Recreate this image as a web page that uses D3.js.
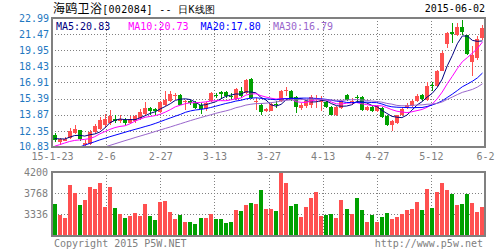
<!DOCTYPE html>
<html><head><meta charset="utf-8">
<script src="https://cdn.jsdelivr.net/npm/d3@7"></script>
<style>body{margin:0;background:#fff}svg{display:block}</style>
</head><body><svg id="c" width="500" height="250"></svg>
<script>
const title = "海鸥卫浴[002084] -- 日K线图";
const lastDate = "2015-06-02";
const dates = ["1-23","1-26","1-27","1-28","1-29","1-30",
"2-2","2-3","2-4","2-5","2-6","2-9","2-10","2-11","2-12","2-13","2-16","2-17","2-25","2-26","2-27",
"3-2","3-3","3-4","3-5","3-6","3-9","3-10","3-11","3-12","3-13","3-16","3-17","3-18","3-19","3-20","3-23","3-24","3-25","3-26","3-27","3-30","3-31",
"4-1","4-2","4-3","4-7","4-8","4-9","4-10","4-13","4-14","4-15","4-16","4-17","4-20","4-21","4-22","4-23","4-24","4-27","4-28","4-29","4-30",
"5-4","5-5","5-6","5-7","5-8","5-11","5-12","5-13","5-14","5-15","5-18","5-19","5-20","5-21","5-22","5-25","5-26","5-27","5-28","5-29",
"6-1","6-2"];
const open = [11.99,11.30,11.42,11.68,12.15,12.40,11.05,11.11,12.24,12.56,
12.93,13.09,13.47,13.25,13.37,13.09,13.25,13.56,13.94,14.50,
14.44,14.13,14.76,15.13,15.67,15.70,15.04,15.13,14.97,14.82,
14.44,15.13,15.75,16.01,15.98,15.67,15.38,16.08,15.92,17.27,
15.10,14.82,14.25,14.25,14.85,15.13,16.14,16.10,15.51,14.50,
14.66,14.76,15.33,15.10,15.04,14.60,13.81,14.50,15.70,15.07,
15.51,15.51,14.35,14.63,14.19,14.50,13.72,12.87,13.09,13.81,
14.50,14.66,15.13,15.70,15.29,16.64,16.55,18.02,20.54,21.67,
21.42,22.14,21.35,18.84,19.22,21.10];
const high = [12.12,11.68,11.74,12.62,12.87,12.46,11.52,12.46,13.00,13.62,
13.94,14.35,13.81,13.81,13.56,13.72,13.88,14.41,15.07,14.57,
14.50,15.13,16.08,16.08,15.92,15.82,15.29,15.29,15.13,14.97,
15.07,16.01,15.92,16.08,16.08,15.92,16.39,16.48,17.24,17.33,
15.45,14.97,14.55,15.00,15.13,16.23,16.48,16.20,15.60,14.97,
15.20,15.70,15.76,15.60,15.13,14.66,14.66,15.29,15.82,15.45,
15.76,15.60,14.72,14.72,14.82,14.57,13.81,13.40,13.88,14.50,
14.97,15.29,15.82,15.82,16.95,16.92,18.12,19.84,21.67,22.52,
22.52,22.83,21.42,20.32,21.26,22.36];
const low = [11.30,11.05,11.36,11.61,12.05,11.42,10.95,11.05,12.15,12.46,
12.68,12.93,13.09,13.09,12.93,13.00,13.09,13.40,13.88,13.88,
13.88,14.03,14.66,15.07,15.29,14.76,14.35,14.82,14.41,13.94,
14.19,15.04,15.45,15.38,15.45,15.29,15.29,15.45,15.82,15.38,
14.35,13.85,14.10,14.20,14.50,15.04,15.60,15.20,14.03,14.35,
14.50,14.50,14.50,14.19,14.50,13.81,13.72,14.44,15.20,14.82,
15.13,14.25,14.19,14.13,14.13,13.56,12.78,12.37,13.03,13.72,
14.44,14.57,15.07,15.20,15.13,16.08,16.45,17.96,20.16,20.63,
21.26,21.42,19.53,17.49,19.06,20.95];
const close = [11.46,11.58,11.61,12.37,12.52,11.58,11.20,12.24,12.78,13.40,
13.47,13.72,13.31,13.47,13.09,13.47,13.72,14.13,14.50,14.19,
14.19,15.07,15.29,15.82,15.76,14.76,15.20,14.97,14.50,14.41,
14.97,15.92,15.70,15.80,15.60,15.57,16.26,15.60,17.17,15.45,
15.20,14.10,14.40,14.90,14.79,16.08,16.23,15.30,14.57,14.82,
15.13,15.51,15.42,15.20,14.57,13.88,14.57,15.13,15.29,15.20,
15.42,14.35,14.63,14.19,14.66,13.63,12.87,13.25,13.81,14.44,
14.82,15.20,15.67,15.35,16.61,16.55,17.96,19.69,21.57,21.48,
22.11,21.67,19.59,19.53,21.04,22.05];
const volume = [3540,3313,3251,3935,3770,3519,3622,3887,3843,3967,
3480,3887,3464,3337,3251,3292,3354,3292,3540,3292,
3210,3581,3602,3375,3231,3313,3169,3169,3128,3251,
3251,3334,3231,3231,3148,3169,3416,3396,3519,3563,
3540,3829,3437,3437,3399,4200,3980,3499,3540,3272,
3478,3664,3788,3296,3316,3337,3251,3622,3437,3337,
3664,3416,3169,3313,3169,3272,3354,3231,3272,3334,
3416,3437,3581,3416,3849,3458,3788,3980,3829,3746,
3519,3540,3746,3560,3375,3478];
const ma5 = [11.62,11.60,11.58,11.75,11.91,11.93,11.86,11.98,12.06,12.24,
12.62,13.12,13.34,13.47,13.41,13.41,13.41,13.58,13.78,14.00,
14.15,14.42,14.65,14.91,15.23,15.34,15.37,15.30,15.04,14.77,
14.81,14.95,15.10,15.36,15.60,15.72,15.83,15.81,16.04,16.01,
15.94,15.50,15.26,14.81,14.68,14.85,15.28,15.46,15.39,15.40,
15.21,15.07,15.09,15.22,15.17,14.92,14.73,14.67,14.69,14.81,
15.12,15.08,14.98,14.76,14.65,14.29,14.00,13.72,13.64,13.60,
13.84,14.30,14.79,15.10,15.53,15.88,16.43,17.23,18.48,19.45,
20.56,21.30,21.28,20.88,20.79,20.83];
const ma10 = [10.90,11.05,11.20,11.35,11.45,11.50,11.55,11.62,11.80,12.07,
12.28,12.49,12.66,12.77,12.83,13.02,13.27,13.46,13.63,13.71,
13.79,13.92,14.12,14.35,14.62,14.77,14.92,15.00,15.00,15.03,
15.08,15.16,15.20,15.20,15.19,15.27,15.37,15.44,15.72,15.83,
15.85,15.67,15.54,15.43,15.35,15.40,15.39,15.36,15.10,15.04,
15.03,15.18,15.28,15.31,15.29,15.07,14.90,14.88,14.96,14.99,
15.02,14.91,14.83,14.73,14.73,14.71,14.54,14.35,14.20,14.13,
14.07,14.15,14.26,14.37,14.57,14.86,15.37,16.01,16.79,17.49,
18.22,18.87,19.26,19.68,20.12,20.73];
const ma20 = [10.05,10.20,10.35,10.50,10.67,10.83,11.00,11.17,11.33,11.50,
11.65,11.80,11.94,12.08,12.22,12.36,12.49,12.62,12.76,12.89,
13.05,13.22,13.40,13.57,13.74,13.90,14.10,14.23,14.32,14.37,
14.45,14.55,14.67,14.80,14.93,15.03,15.16,15.23,15.36,15.43,
15.47,15.42,15.37,15.33,15.28,15.35,15.39,15.41,15.41,15.44,
15.44,15.43,15.41,15.37,15.32,15.24,15.15,15.12,15.03,15.02,
15.03,15.05,15.06,15.02,15.01,14.89,14.72,14.62,14.58,14.56,
14.55,14.53,14.55,14.55,14.65,14.79,14.96,15.18,15.50,15.81,
16.15,16.51,16.76,17.03,17.35,17.80];
const ma30 = [9.45,9.60,9.75,9.90,10.05,10.20,10.35,10.50,10.62,10.72,
10.83,10.98,11.13,11.28,11.43,11.57,11.72,11.86,12.00,12.14,
12.29,12.43,12.58,12.72,12.87,13.02,13.17,13.32,13.46,13.60,
13.73,13.86,14.00,14.12,14.23,14.36,14.53,14.64,14.78,14.86,
14.92,14.93,14.96,15.01,15.07,15.16,15.23,15.27,15.27,15.30,
15.32,15.34,15.34,15.32,15.28,15.26,15.23,15.23,15.26,15.29,
15.30,15.26,15.22,15.16,15.12,15.06,14.94,14.87,14.75,14.72,
14.71,14.75,14.79,14.80,14.86,14.88,14.94,15.08,15.32,15.54,
15.77,15.98,16.12,16.26,16.48,16.79];
const maNames = ["MA5","MA10","MA20","MA30"];
const priceTicks = [10.83,12.35,13.87,15.39,16.91,18.43,19.95,21.47,22.99];
const volTicks = [3336,3768,4200];
const dateTicks = ["15-1-23","2-6","2-27","3-13","3-27","4-13","4-27","5-12","6-2"];

const svg = d3.select("#c");
const L = 52, R = 485, T = 18, B = 147, VT = 172, VB = 236;
const MONO = "'DejaVu Sans Mono', monospace";
const CJK = "'Noto Sans CJK SC', sans-serif";
const RED = "#ff5050", GREEN = "#00a000", GRID = "#808080";
const maColors = ["#000080","#ff00ff","#0000ff","#9966cc"];

const x = d3.scaleBand().domain(dates).range([L, R]).paddingInner(0.2).paddingOuter(0.1);
const y = d3.scaleLinear().domain([10.83, 22.99]).range([B, T]);
const yv = d3.scaleLinear().domain([2880, 4200]).range([VB, VT]);
const xg = d3.scaleLinear().domain([0, dateTicks.length - 1]).range([L, R]);
const cx = d => x(d) + x.bandwidth() / 2;

const defs = svg.append("defs");
defs.append("clipPath").attr("id","cm").append("rect").attr("x",L).attr("y",T).attr("width",R-L).attr("height",B-T);
defs.append("clipPath").attr("id","cv").append("rect").attr("x",L).attr("y",VT).attr("width",R-L).attr("height",VB-VT);

// Title & date
const t = svg.append("text").attr("x", 53).attr("y", 12.5).attr("fill", "#000")
  .style("white-space", "pre").attr("textLength", 162).attr("lengthAdjust", "spacing");
t.append("tspan").attr("font-family", CJK).attr("font-size", 12).text(title.slice(0,4));
t.append("tspan").attr("font-family", MONO).attr("font-size", 10).style("white-space","pre").text(title.slice(4, 20));
t.append("tspan").attr("font-family", CJK).attr("font-size", 12).text(title.slice(20));
svg.append("text").attr("x", R).attr("y", 12).attr("text-anchor","end")
  .attr("font-family", MONO).attr("font-size", 10).attr("fill","#000").text(lastDate);

// Grid lines
const gridG = svg.append("g").attr("stroke", GRID).attr("stroke-dasharray","1,2").attr("shape-rendering","crispEdges");
priceTicks.slice(1, -1).forEach(v => {
  const yy = Math.round(y(v)) + 0.5;
  gridG.append("line").attr("x1", L).attr("x2", R).attr("y1", yy).attr("y2", yy);
});
volTicks.slice(0, -1).forEach(v => {
  const yy = Math.round(yv(v)) + 0.5;
  gridG.append("line").attr("x1", L).attr("x2", R).attr("y1", yy).attr("y2", yy);
});
d3.range(1, dateTicks.length - 1).forEach(i => {
  const xx = Math.round(xg(i)) + 0.5;
  gridG.append("line").attr("x1", xx).attr("x2", xx).attr("y1", T).attr("y2", B);
  gridG.append("line").attr("x1", xx).attr("x2", xx).attr("y1", VT).attr("y2", VB);
});

// Candles
const cg = svg.append("g").attr("clip-path","url(#cm)").attr("shape-rendering","crispEdges");
dates.forEach((d, i) => {
  const up = close[i] >= open[i];
  const col = up ? RED : GREEN;
  const x0 = Math.round(x(d));
  const w = Math.max(1, Math.round(x.bandwidth()));
  const wx = x0 + Math.floor(w / 2);
  const yh = Math.round(y(high[i])), yl = Math.round(y(low[i]));
  cg.append("rect").attr("x", wx).attr("y", yh).attr("width", 1).attr("height", Math.max(1, yl - yh)).attr("fill", col);
  const yt = Math.round(y(Math.max(open[i], close[i])));
  const yb = Math.round(y(Math.min(open[i], close[i])));
  cg.append("rect").attr("x", x0).attr("y", yt).attr("width", w).attr("height", Math.max(1, yb - yt)).attr("fill", col);
});

// MA lines
const mg = svg.append("g").attr("clip-path","url(#cm)").attr("fill","none").attr("stroke-width",1);
[ma5, ma10, ma20, ma30].forEach((arr, j) => {
  const line = d3.line().x((v, i) => cx(dates[i])).y(v => y(v));
  mg.append("path").attr("d", line(arr)).attr("stroke", maColors[j]);
});

// Volume bars
const vg = svg.append("g").attr("clip-path","url(#cv)").attr("shape-rendering","crispEdges");
dates.forEach((d, i) => {
  const up = close[i] >= open[i];
  const x0 = Math.round(x(d));
  const w = Math.max(1, Math.round(x.bandwidth()));
  const yt = Math.round(yv(volume[i]));
  vg.append("rect").attr("x", x0).attr("y", yt).attr("width", w).attr("height", Math.max(0, VB - yt)).attr("fill", up ? RED : GREEN);
});

// Frames
svg.append("rect").attr("x", L).attr("y", T).attr("width", R-L).attr("height", B-T)
  .attr("fill","none").attr("stroke", GRID).attr("stroke-width", 2);
svg.append("rect").attr("x", L).attr("y", VT).attr("width", R-L).attr("height", VB-VT)
  .attr("fill","none").attr("stroke", GRID).attr("stroke-width", 2);

// Axes labels
const ya = svg.append("g").attr("transform", `translate(${L},0)`)
  .call(d3.axisLeft(y).tickValues(priceTicks).tickSize(0).tickPadding(3).tickFormat(d3.format(".2f")));
ya.select(".domain").remove();
ya.selectAll("text").attr("font-family", MONO).attr("font-size", 10).attr("fill", "#1f78c1");
ya.selectAll(".tick").filter(d => d === priceTicks[0]).select("text").attr("dy", "0.2em");

const yva = svg.append("g").attr("transform", `translate(${L},0)`)
  .call(d3.axisLeft(yv).tickValues(volTicks).tickSize(0).tickPadding(4).tickFormat(d3.format("d")));
yva.select(".domain").remove();
yva.selectAll("text").attr("font-family", MONO).attr("font-size", 10).attr("fill", "#808080");

const xa = svg.append("g").attr("transform", `translate(0,${B})`)
  .call(d3.axisBottom(xg).tickValues(d3.range(dateTicks.length)).tickSize(0).tickPadding(6).tickFormat(i => dateTicks[i]));
xa.select(".domain").remove();
xa.selectAll("text").attr("font-family", MONO).attr("font-size", 10).attr("fill", "#808080");

// Legend
const lastVals = [ma5, ma10, ma20, ma30].map(a => a[a.length - 1].toFixed(2));
maNames.forEach((n, j) => {
  svg.append("text").attr("x", 56 + j * 72.3).attr("y", 29.5)
    .attr("font-family", MONO).attr("font-size", 10).attr("fill", maColors[j])
    .text(n + ":" + lastVals[j]);
});

// Footer
svg.append("text").attr("x", 54).attr("y", 246.5).attr("font-family", MONO).attr("font-size", 10)
  .attr("fill", "#808080").text("Copyright 2015 P5W.NET");
svg.append("text").attr("x", 483).attr("y", 246.5).attr("text-anchor","end").attr("font-family", MONO).attr("font-size", 10)
  .attr("fill", "#808080").text("http://www.p5w.net");
</script></body></html>
